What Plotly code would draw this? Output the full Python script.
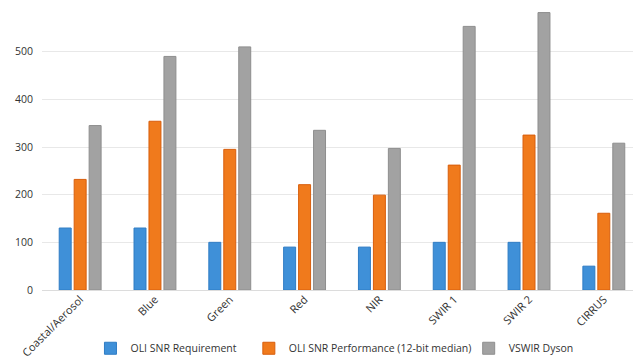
import plotly.graph_objects as go

categories = ["Coastal/Aerosol", "Blue", "Green", "Red", "NIR", "SWIR 1", "SWIR 2", "CIRRUS"]
oli_requirement = [130, 130, 100, 90, 90, 100, 100, 50]
oli_performance = [232, 354, 295, 221, 199, 262, 325, 161]
vswir_dyson = [345, 490, 510, 335, 297, 553, 582, 308]
y_ticks = [0, 100, 200, 300, 400, 500]

fig = go.Figure()
fig.add_trace(go.Bar(name="OLI SNR Requirement", x=categories, y=oli_requirement, legend="legend",
                     marker=dict(color="#3f90d8", line=dict(color="#2f7cc4", width=1))))
fig.add_trace(go.Bar(name="OLI SNR Performance (12-bit median)", x=categories, y=oli_performance,
                     legend="legend2",
                     marker=dict(color="#f07a1c", line=dict(color="#d85e0c", width=1))))
fig.add_trace(go.Bar(name="VSWIR Dyson", x=categories, y=vswir_dyson, legend="legend3",
                     marker=dict(color="#a2a2a2", line=dict(color="#8e8e8e", width=1))))

leg_common = dict(orientation="h", y=-0.153, yanchor="top", xanchor="left",
                  font=dict(size=10.5, color="#333333"), itemwidth=30,
                  bgcolor="rgba(0,0,0,0)")

fig.update_layout(
    width=633, height=384,
    margin=dict(l=42, r=0, t=4, b=94),
    paper_bgcolor="white", plot_bgcolor="white",
    font=dict(family="Open Sans", size=10, color="#333333"),
    barmode="group", bargap=0.40, bargroupgap=0.2,
    showlegend=True,
    legend=dict(x=0.082, **leg_common),
    legend2=dict(x=0.350, **leg_common),
    legend3=dict(x=0.722, **leg_common),
    xaxis=dict(range=[-0.51, 7.39], tickangle=-45, showgrid=False, showline=False,
               ticks="", automargin=False, tickfont=dict(size=11, color="#333333")),
    yaxis=dict(range=[0, 600], tickvals=y_ticks, showgrid=True, gridcolor="#e8e8e8",
               gridwidth=1, zeroline=True, zerolinecolor="#dcdcdc", zerolinewidth=1,
               showline=False, ticks="", ticklen=0, automargin=False, ticklabelstandoff=8,
               tickfont=dict(size=10.5, color="#333333")),
)
fig.write_html("out.html", config={"displayModeBar": False},
               post_script="document.body.style.margin='0';document.body.style.overflow='hidden';")
